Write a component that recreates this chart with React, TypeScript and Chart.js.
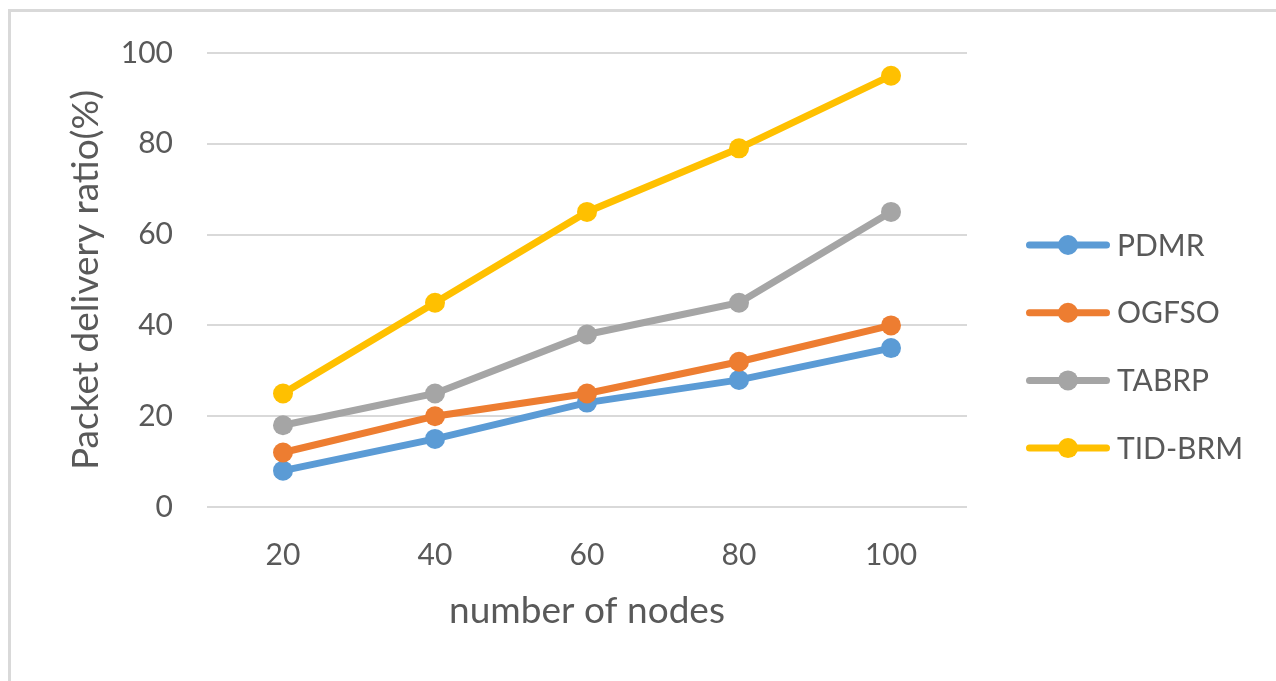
import React, { useEffect, useRef } from "react";
import { Chart, registerables } from "chart.js";

Chart.register(...registerables);

const categories = ["20", "40", "60", "80", "100"];
const seriesNames = ["PDMR", "OGFSO", "TABRP", "TID-BRM"];
const pdmr = [8, 15, 23, 28, 35];
const ogfso = [12, 20, 25, 32, 40];
const tabrp = [18, 25, 38, 45, 65];
const tidBrm = [25, 45, 65, 79, 95];
const yTicks = [0, 20, 40, 60, 80, 100];
const seriesColors = ["#5b9bd5", "#ed7d31", "#a5a5a5", "#ffc000"];

const xTitle = "number of nodes";
const yTitle = "Packet delivery ratio(%)";

const TEXT = "#595959";
const FONT = "Lato";

const sideLegend = {
  id: "sideLegend",
  afterDraw(chart: any, _args: any, opts: any) {
    const ctx = chart.ctx as CanvasRenderingContext2D;
    ctx.save();
    chart.data.datasets.forEach((ds: any, i: number) => {
      const y = opts.top + i * opts.spacing;
      const cx = (opts.x0 + opts.x1) / 2;
      ctx.strokeStyle = ds.borderColor;
      ctx.lineWidth = 7;
      ctx.lineCap = "round";
      ctx.beginPath();
      ctx.moveTo(opts.x0, y);
      ctx.lineTo(opts.x1, y);
      ctx.stroke();
      ctx.fillStyle = ds.borderColor;
      ctx.beginPath();
      ctx.arc(cx, y, 10, 0, Math.PI * 2);
      ctx.fill();
      ctx.fillStyle = TEXT;
      ctx.font = `30px ${FONT}`;
      ctx.textBaseline = "middle";
      ctx.textAlign = "left";
      ctx.fillText(ds.label, opts.textX, y + 1);
    });
    ctx.restore();
  },
};

export default function App() {
  const ref = useRef<HTMLCanvasElement | null>(null);

  useEffect(() => {
    if (!ref.current) return;
    const values = [pdmr, ogfso, tabrp, tidBrm];
    const chart = new Chart(ref.current, {
      type: "line",
      data: {
        labels: categories,
        datasets: seriesNames.map((name, i) => ({
          label: name,
          data: values[i],
          borderColor: seriesColors[i],
          backgroundColor: seriesColors[i],
          pointBackgroundColor: seriesColors[i],
          pointBorderWidth: 0,
          pointRadius: 10,
          borderWidth: 7,
          tension: 0,
          fill: false,
          order: seriesNames.length - i,
        })),
      },
      options: {
        responsive: false,
        animation: false,
        layout: { padding: { top: 53, right: 309, bottom: 40, left: 0 } },
        plugins: {
          legend: { display: false },
          tooltip: { enabled: false },
          sideLegend: { top: 245, spacing: 67.7, x0: 1029.5, x1: 1106.5, textX: 1117 },
        } as any,
        scales: {
          x: {
            offset: true,
            grid: { display: false, offset: true },
            border: { display: false },
            ticks: {
              color: TEXT,
              font: { family: FONT, size: 30 },
              padding: 22,
            },
            title: {
              display: true,
              text: xTitle,
              color: TEXT,
              font: { family: FONT, size: 37 },
              padding: { top: 0, bottom: 8 },
            },
            afterFit: (s: any) => {
              s.height = 134;
            },
          },
          y: {
            min: 0,
            max: 100,
            afterBuildTicks: (s: any) => {
              s.ticks = yTicks.map((v) => ({ value: v }));
            },
            grid: { color: "#d9d9d9", lineWidth: 2, drawTicks: false },
            border: { display: false },
            ticks: {
              color: TEXT,
              font: { family: FONT, size: 30 },
              padding: 34,
            },
            title: {
              display: true,
              text: yTitle,
              color: TEXT,
              font: { family: FONT, size: 37 },
              padding: { top: 64, bottom: 0 },
            },
            afterFit: (s: any) => {
              s.width = 207;
            },
          },
        },
      },
      plugins: [sideLegend],
    });
    return () => chart.destroy();
  }, []);

  return (
    <div style={{ position: "fixed", left: 0, top: 0, width: 1276, height: 681, background: "#fff" }}>
      <div
        style={{
          position: "absolute",
          left: 8,
          top: 9,
          width: 2000,
          height: 1000,
          borderLeft: "3px solid #d9d9d9",
          borderTop: "3px solid #d9d9d9",
        }}
      />
      <canvas ref={ref} width={1276} height={681} style={{ position: "absolute", left: 0, top: 0 }} />
    </div>
  );
}
